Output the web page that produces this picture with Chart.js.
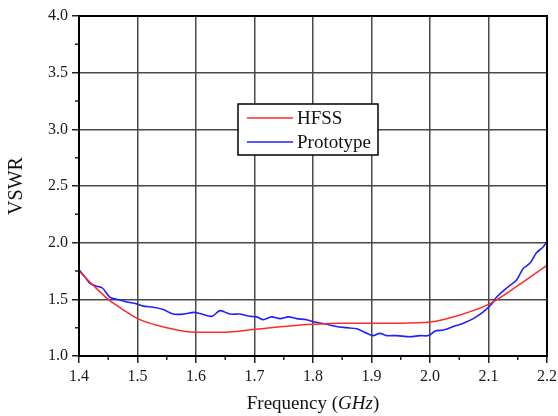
<!DOCTYPE html>
<html>
<head>
<meta charset="utf-8">
<script src="https://cdn.jsdelivr.net/npm/chart.js@4"></script>
<style>
    html, body { margin: 0; padding: 0; background: #ffffff; }
    #chart { display: block; }
</style>
</head>
<body>
<div style="width:558px;height:416px;">
    <canvas id="chart" width="558" height="416"></canvas>
</div>
<script>
"use strict"


// HFSS simulation
const hfssFreq = [1.40, 1.425, 1.45, 1.475, 1.50, 1.55, 1.60, 1.65, 1.70, 1.75,
                  1.80, 1.85, 1.90, 1.95, 2.00, 2.05, 2.10, 2.15, 2.20];
const hfssVswr = [1.75, 1.62, 1.50, 1.41, 1.33, 1.25, 1.21, 1.21, 1.235, 1.26,
                  1.28, 1.29, 1.29, 1.29, 1.30, 1.36, 1.455, 1.62, 1.80];

// measured prototype
const protoFreq = [1.400, 1.410, 1.419, 1.430, 1.440, 1.4525, 1.464, 1.4815, 1.4986, 1.510,
                   1.527, 1.544, 1.561, 1.579, 1.596, 1.607, 1.627, 1.641, 1.658, 1.675,
                   1.692, 1.704, 1.715, 1.729, 1.744, 1.758, 1.772, 1.789, 1.803, 1.823,
                   1.840, 1.857, 1.875, 1.892, 1.903, 1.914, 1.926, 1.943, 1.966, 1.983,
                   1.997, 2.009, 2.023, 2.040, 2.057, 2.074, 2.091, 2.105, 2.114, 2.131,
                   2.148, 2.159, 2.171, 2.182, 2.193, 2.200];
const protoVswr = [1.76, 1.70, 1.64, 1.615, 1.60, 1.52, 1.50, 1.477, 1.46, 1.44,
                   1.43, 1.41, 1.37, 1.37, 1.385, 1.375, 1.35, 1.40, 1.37, 1.37,
                   1.35, 1.345, 1.32, 1.345, 1.33, 1.345, 1.33, 1.32, 1.30, 1.28,
                   1.26, 1.25, 1.24, 1.20, 1.18, 1.20, 1.18, 1.18, 1.17, 1.18,
                   1.18, 1.22, 1.23, 1.26, 1.29, 1.33, 1.39, 1.456, 1.52, 1.60,
                   1.67, 1.77, 1.82, 1.91, 1.96, 2.01];

const seriesLabels = ['HFSS', 'Prototype'];
const seriesColors = ['#ff2a2a', '#2020ff'];


const app = {
    canvasContext: document.getElementById('chart').getContext('2d'),
    font: '"Liberation Serif", "Times New Roman", serif',
    gridColor: '#4a4a4a'
};


window.onload = () =>
{
    line();
}


function points(xs, ys)
{
    return xs.map((x, i) => ({ x: x, y: ys[i] }));
}


// frame, minor ticks, axis titles and the boxed legend
const decorations =
{
    id: 'decorations',
    afterDraw(chart)
    {
        const ctx = chart.ctx;
        const area = chart.chartArea;
        const xs = chart.scales.x;
        const ys = chart.scales.y;

        ctx.save();

        // minor ticks
        ctx.strokeStyle = '#222';
        ctx.lineWidth = 1.5;
        ctx.beginPath();
        for (let v = 1.45; v < 2.2; v += 0.1)
        {
            const px = xs.getPixelForValue(v);
            ctx.moveTo(px, area.bottom);
            ctx.lineTo(px, area.bottom + 4);
        }
        for (let v = 1.25; v < 4.0; v += 0.5)
        {
            const py = ys.getPixelForValue(v);
            ctx.moveTo(area.left, py);
            ctx.lineTo(area.left - 4, py);
        }
        ctx.stroke();

        // frame
        ctx.strokeStyle = '#000';
        ctx.lineWidth = 2;
        ctx.strokeRect(area.left, area.top, area.right - area.left, area.bottom - area.top);

        // y title
        ctx.fillStyle = '#111';
        ctx.font = '20px ' + app.font;
        ctx.textAlign = 'center';
        ctx.textBaseline = 'middle';
        ctx.save();
        ctx.translate(17, (area.top + area.bottom) / 2);
        ctx.rotate(-Math.PI / 2);
        ctx.fillText('VSWR', 0, 0);
        ctx.restore();

        // x title with italic unit
        const parts = [['Frequency (', ''], ['GHz', 'italic '], [')', '']];
        let total = 0;
        parts.forEach(p =>
        {
            ctx.font = p[1] + '19px ' + app.font;
            total += ctx.measureText(p[0]).width;
        });
        let tx = (area.left + area.right) / 2 - total / 2;
        ctx.textAlign = 'left';
        parts.forEach(p =>
        {
            ctx.font = p[1] + '19px ' + app.font;
            ctx.fillText(p[0], tx, 404);
            tx += ctx.measureText(p[0]).width;
        });

        // legend box
        const box = { left: 238, top: 104, width: 140, height: 51 };
        ctx.fillStyle = '#fff';
        ctx.fillRect(box.left, box.top, box.width, box.height);
        ctx.strokeStyle = '#000';
        ctx.lineWidth = 1.5;
        ctx.strokeRect(box.left, box.top, box.width, box.height);

        ctx.font = '19px ' + app.font;
        ctx.textBaseline = 'middle';
        chart.data.datasets.forEach((ds, i) =>
        {
            const ly = box.top + 14 + i * 24;
            ctx.strokeStyle = ds.borderColor;
            ctx.lineWidth = 1.5;
            ctx.beginPath();
            ctx.moveTo(box.left + 9, ly);
            ctx.lineTo(box.left + 55, ly);
            ctx.stroke();
            ctx.fillStyle = '#111';
            ctx.fillText(ds.label, box.left + 59, ly + 1);
        });

        ctx.restore();
    }
};


function line()
{
    const data =
    {
        datasets: [{
                    label: seriesLabels[0],
                    borderColor: seriesColors[0],
                    backgroundColor: seriesColors[0],
                    data: points(hfssFreq, hfssVswr),
                    borderWidth: 1.5,
                    pointRadius: 0,
                    cubicInterpolationMode: 'monotone',
                   },
                   {
                    label: seriesLabels[1],
                    borderColor: seriesColors[1],
                    backgroundColor: seriesColors[1],
                    data: points(protoFreq, protoVswr),
                    borderWidth: 1.6,
                    pointRadius: 0,
                    tension: 0.3,
                   },]
    };

    const tickFont = { family: app.font, size: 16 };

    const config =
    {
        type: 'line',
        data: data,
        options:
        {
            responsive: false,
            animation: false,
            layout: { padding: { left: 0, right: 11, top: 16, bottom: 0 } },
            scales:
            {
                x:
                {
                    type: 'linear',
                    min: 1.4,
                    max: 2.2,
                    afterFit: (scale) =>
                    {
                        scale.height = 60;
                        scale.paddingLeft = 0;
                        scale.paddingRight = 0;
                    },
                    ticks:
                    {
                        stepSize: 0.1,
                        font: tickFont,
                        color: '#1a1a1a',
                        padding: 4,
                        maxRotation: 0,
                        callback: (v) => v.toFixed(1)
                    },
                    grid: { color: app.gridColor, lineWidth: 1.5, tickLength: 7, tickColor: '#222' },
                    border: { display: false }
                },
                y:
                {
                    min: 1.0,
                    max: 4.0,
                    afterFit: (scale) =>
                    {
                        scale.width = 79;
                        scale.paddingTop = 0;
                        scale.paddingBottom = 0;
                    },
                    ticks:
                    {
                        stepSize: 0.5,
                        font: tickFont,
                        color: '#1a1a1a',
                        padding: 4,
                        callback: (v) => v.toFixed(1)
                    },
                    grid: { color: app.gridColor, lineWidth: 1.5, tickLength: 7, tickColor: '#222' },
                    border: { display: false }
                }
            },
            plugins:
            {
                legend: { display: false },
                tooltip: { enabled: false }
            }
        },
        plugins: [decorations]
    };

    var myChart = new Chart(app.canvasContext, config);
}
</script>
</body>
</html>
